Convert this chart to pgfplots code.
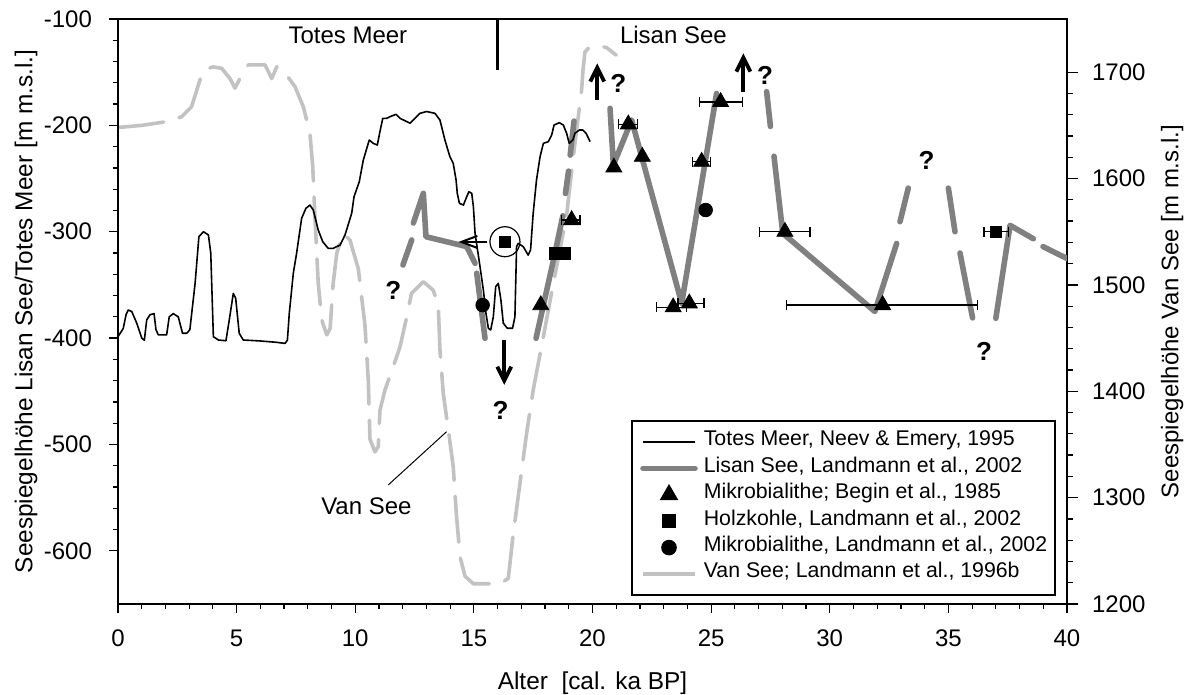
\documentclass[border=0pt]{standalone}
\usepackage{fontspec}
\setmainfont{Liberation Sans}
\usepackage{pgfplots}
\pgfplotsset{compat=1.18}
\usetikzlibrary{arrows.meta}
\definecolor{lisan}{RGB}{128,128,128}
\definecolor{van}{RGB}{194,194,194}
\pgfplotsset{
  mylineleg/.style={legend image code/.code={\draw[##1] (0pt,0pt) -- (26pt,0pt);}},
  mymarkleg/.style={legend image code/.code={\draw[##1] plot coordinates {(13pt,0pt)};}},
}
\begin{document}
\begin{tikzpicture}
% ---------------- right axis: Van See ----------------
\begin{axis}[
  scale only axis, width=474.5pt, height=292.5pt,
  xmin=0, xmax=40, ymin=1200, ymax=1750,
  axis x line=none, axis y line*=right,
  ytick={1200,1300,1400,1500,1600,1700},
  minor y tick num=4,
  tick align=outside,
  major tick length=5.5pt, minor tick length=3pt,
  every tick/.style={black, line width=0.6pt},
  axis line style={line width=0.6pt},
  /pgf/number format/assume math mode=true,
  /pgf/number format/1000 sep={},
  yticklabel style={font=\fontsize{12}{14}\selectfont, xshift=3.5pt},
  ylabel={Seespiegelhöhe Van See [m m.s.l.]},
  ylabel style={font=\fontsize{12}{14}\selectfont, at={(axis description cs:1.1107,0.5)}, anchor=center},
]
\addplot[van, line width=1.8pt, line cap=round, line join=round, dash pattern=on 23pt off 8pt] coordinates {
(0,1648) (1.0,1650) (2.05,1653.5) (2.68,1658) (3.1,1667.5) (3.46,1693) (3.62,1702) (4.0,1705) (4.37,1703.6)
(4.72,1694) (4.93,1685) (5.14,1694) (5.49,1706.8) (6.2,1706.8) (6.48,1694) (6.69,1705) (6.96,1702)
(7.46,1686.4) (7.81,1667.5) (8.09,1642.5) (8.21,1611) (8.3,1564) (8.44,1501.5) (8.59,1467) (8.8,1453)
(8.94,1459) (9.07,1501.5) (9.22,1529.7) (9.5,1548.5) (9.78,1542) (10.13,1515) (10.41,1462) (10.55,1410)
(10.62,1355) (10.83,1343) (10.97,1348) (11.04,1382) (11.25,1401) (11.6,1423) (11.89,1442) (12.17,1470)
(12.37,1492) (12.87,1503) (13.29,1495) (13.5,1480) (13.57,1439) (13.71,1398) (13.92,1364) (14.13,1329)
(14.27,1282) (14.42,1244) (14.63,1226) (14.98,1219) (16.1,1219) (16.45,1224) (16.66,1266) (16.94,1313)
(17.22,1360) (17.5,1401) (17.85,1442) (18.35,1501.5) (18.91,1566) (19.19,1620.5) (19.54,1683) (19.6,1702)
(19.68,1719) (19.85,1723) (20.04,1724.5) (20.32,1724.6) (20.6,1723) (21.0,1716)
};
\end{axis}
% ---------------- main axis: Lisan See / Totes Meer ----------------
\begin{axis}[
  scale only axis, width=474.5pt, height=292.5pt,
  xmin=0, xmax=40, ymin=-650, ymax=-100,
  xtick={0,5,...,40}, minor x tick num=4,
  ytick={-600,-500,...,-100}, minor y tick num=4,
  xtick pos=left, ytick pos=left,
  tick align=outside,
  major tick length=4.5pt, minor tick length=2.5pt,
  every tick/.style={black, line width=0.6pt},
  axis line style={line width=0.6pt},
  /pgf/number format/assume math mode=true,
  tick label style={font=\fontsize{12}{14}\selectfont},
  xticklabel style={yshift=-5pt},
  yticklabel style={xshift=-5pt},
  label style={font=\fontsize{12.2}{14}\selectfont},
  xlabel={Alter~ [cal. ka BP]},
  ylabel={Seespiegelhöhe Lisan See/Totes Meer [m m.s.l.]},
  xlabel style={at={(axis description cs:0.5,0)}, anchor=base, yshift=-43pt},
  ylabel style={at={(axis description cs:-0.0969,0.5)}, anchor=center},
  unbounded coords=jump,
  legend cell align=left,
  legend style={at={(axis description cs:0.98841,0.01368)}, anchor=south east,
    draw=black, line width=0.8pt, fill=white,
    inner xsep=4pt, inner ysep=4pt, row sep=0pt,
    font=\fontsize{10.65}{13}\selectfont,
    nodes={inner sep=0pt, text height=8.6pt, text depth=4.6pt},
    /tikz/every odd column/.append style={column sep=3pt}},
]
\addlegendimage{mylineleg, black, line width=0.8pt}
\addlegendentry{Totes Meer, Neev \& Emery, 1995}
\addlegendimage{mylineleg, lisan, line width=2.8pt, line cap=round}
\addlegendentry{Lisan See, Landmann et al., 2002}
\addlegendimage{mymarkleg, black, mark=triangle*, mark size=4.6pt}
\addlegendentry{Mikrobialithe; Begin et al., 1985}
\addlegendimage{mymarkleg, black, mark=square*, mark size=3.1pt}
\addlegendentry{Holzkohle, Landmann et al., 2002}
\addlegendimage{mymarkleg, black, mark=*, mark size=3.5pt}
\addlegendentry{Mikrobialithe, Landmann et al., 2002}
\addlegendimage{mylineleg, van, line width=2pt}
\addlegendentry{Van See; Landmann et al., 1996b}

% Lisan See
\addplot[forget plot, lisan, line width=2.8pt, line cap=round, line join=round] coordinates {
(12.01,-331.3) (12.38,-307.8) (12.4,nan)
(12.45,-291.8) (12.87,-263.9) (12.98,-304.7) (14.7,-314) (15.05,-329.7) (15.08,nan)
(15.12,-339) (15.47,-400.2) (16,nan)
(17.62,-400.2) (18.42,-320) (18.75,-285) (18.8,nan)
(18.86,-264) (18.99,-243) (19.02,nan)
(19.06,-228) (19.22,-196) (20,nan)
(20.74,-184) (20.88,-237.3) (21.65,-195) (23.76,-367.3) (25.23,-170) (26,nan)
(27.34,-168.3) (27.5,-201) (27.6,nan)
(27.65,-229) (28.02,-301.5) (31.9,-375) (32.82,-311) (32.9,nan)
(32.96,-290.6) (33.31,-259) (34,nan)
(35.0,-259) (35.28,-300) (35.4,nan)
(35.49,-320) (36.02,-381) (36.5,nan)
(37.0,-381.4) (37.6,-294) (38.58,-306.6) (38.8,nan)
(38.99,-314) (40.04,-325.6)
};
% Totes Meer
\addplot[forget plot, black, line width=0.8pt, line join=round] coordinates {
(0,-398.7) (0.22,-391) (0.34,-378) (0.43,-373.6) (0.58,-375) (0.79,-386) (1.0,-400) (1.11,-402)
(1.21,-383) (1.35,-378) (1.52,-377) (1.6,-392) (1.7,-397) (2.05,-397) (2.16,-380) (2.33,-377)
(2.54,-380) (2.72,-395.5) (2.9,-395.5) (3.03,-392) (3.25,-348.5) (3.41,-304.7) (3.6,-300) (3.81,-303)
(3.91,-320) (4.02,-398.7) (4.23,-401.8) (4.55,-402.5) (4.69,-383) (4.86,-358) (4.96,-362.6) (5.11,-395.5)
(5.28,-401.8) (5.99,-402.7) (6.69,-404) (7.04,-405) (7.14,-402) (7.22,-376.7) (7.39,-339) (7.53,-320)
(7.74,-287.4) (7.92,-278) (8.09,-275) (8.23,-279.6) (8.44,-298.4) (8.63,-309.4) (8.86,-315.6) (9.07,-315.6)
(9.36,-312.5) (9.57,-303) (9.85,-282.7) (9.95,-267) (10.17,-253) (10.34,-232.6) (10.59,-213.8) (10.76,-216.9)
(10.93,-218.5) (11.04,-206) (11.16,-193.4) (11.32,-193.4) (11.46,-191.9) (11.72,-189.6) (11.89,-193.4)
(12.31,-198) (12.73,-188.7) (13.01,-187) (13.36,-188.7) (13.57,-195) (13.78,-213.8) (13.99,-229.5)
(14.13,-235.7) (14.25,-251.4) (14.3,-263.9) (14.39,-273.3) (14.56,-274.9) (14.7,-267) (14.79,-262.4)
(14.91,-263.9) (14.98,-276.5) (15.05,-301.5) (15.26,-333) (15.4,-354.8) (15.51,-376.7) (15.61,-390.8)
(15.71,-392.4) (15.82,-380) (15.92,-351.7) (16.03,-348.5) (16.14,-364.2) (16.24,-386) (16.41,-390.8)
(16.63,-390.8) (16.73,-380) (16.78,-333) (16.8,-314) (16.87,-311) (17.08,-314) (17.29,-322) (17.39,-317)
(17.5,-282.7) (17.64,-251.4) (17.79,-229.5) (17.93,-216.9) (18.14,-215.3) (18.28,-209) (18.38,-199.7)
(18.6,-197.5) (18.77,-199.7) (18.91,-207.5) (19.02,-216.9) (19.17,-213.8) (19.26,-207.5) (19.44,-204.4)
(19.59,-204.4) (19.73,-207.5) (19.9,-215.3)
};
% Mikrobialithe Begin 1985: without error bars
\addplot[forget plot, only marks, black, mark=triangle*, mark size=4.6pt] coordinates {
(17.82,-369) (20.9,-239.5) (22.1,-229.5)
};
% with x error bars
\addplot[forget plot, only marks, black, mark=triangle*, mark size=4.6pt,
  error bars/.cd, x dir=both, x explicit,
  error bar style={line width=0.6pt, black},
  error mark options={black, mark size=2.5pt, line width=0.6pt, rotate=90}]
  table[x=x, y=y, x error minus=em, x error plus=ep] {
x      y       em    ep
19.12  -289    0.42  0.35
21.51  -199    0.42  0.37
23.40  -371    0.70  0.55
24.08  -367.3  0.48  0.62
24.60  -234.2  0.38  0.38
25.40  -178    0.90  0.93
28.11  -300    1.08  1.06
32.23  -368.9  4.05  3.99
};
% Holzkohle
\addplot[forget plot, only marks, black, mark=square*, mark size=2.8pt] coordinates {
(16.31,-309.4) (18.42,-320.3) (18.84,-320.3)
};
\addplot[forget plot, only marks, black, mark=square*, mark size=2.8pt,
  error bars/.cd, x dir=both, x explicit,
  error bar style={line width=0.6pt, black},
  error mark options={black, mark size=2.5pt, line width=0.6pt, rotate=90}]
  table[x=x, y=y, x error minus=em, x error plus=ep] {
x     y     em    ep
37.0  -300  0.50  0.54
};
% Mikrobialithe Landmann 2002
\addplot[forget plot, only marks, black, mark=*, mark size=3.4pt] coordinates {
(15.37,-369) (24.77,-279.6)
};
% annotations
\node[font=\fontsize{12}{14}\selectfont, anchor=base] at (axis cs:9.69,-123.5) {Totes Meer};
\node[font=\fontsize{12}{14}\selectfont, anchor=base] at (axis cs:23.41,-122.9) {Lisan See};
\node[font=\fontsize{12}{14}\selectfont, anchor=base] at (axis cs:10.47,-566.3) {Van See};
\draw[line width=0.5pt] (axis cs:11.39,-538.1) -- (axis cs:13.85,-488);
\draw[line width=1.6pt] (axis cs:16.0,-100) -- (axis cs:16.0,-148);
\draw[line width=0.6pt] (axis cs:16.31,-309.4) circle[radius=7.5pt];
\draw[line width=1pt, -{Straight Barb[length=8pt,width=6pt]}] (axis cs:15.57,-309.6) -- (axis cs:14.35,-309.6);
\draw[line width=1.9pt, -{Straight Barb[length=7pt,width=7pt]}] (axis cs:16.28,-401.8) -- (axis cs:16.28,-444);
\draw[line width=1.9pt, -{Straight Barb[length=7pt,width=7pt]}] (axis cs:20.2,-176.2) -- (axis cs:20.2,-141.7);
\draw[line width=1.9pt, -{Straight Barb[length=7pt,width=7pt]}] (axis cs:26.36,-168.3) -- (axis cs:26.36,-132.3);
\begin{scope}[every node/.style={font=\bfseries\fontsize{13}{15}\selectfont}]
\node at (axis cs:11.6,-354.8) {?};
\node at (axis cs:16.13,-468) {?};
\node at (axis cs:21.09,-160.5) {?};
\node at (axis cs:27.27,-152.6) {?};
\node at (axis cs:34.08,-232.6) {?};
\node at (axis cs:36.5,-412.8) {?};
\end{scope}
\end{axis}
\pgfresetboundingbox
\path[use as bounding box] (-59pt,-45.5pt) rectangle (536.5pt,302pt);
\end{tikzpicture}
\end{document}
